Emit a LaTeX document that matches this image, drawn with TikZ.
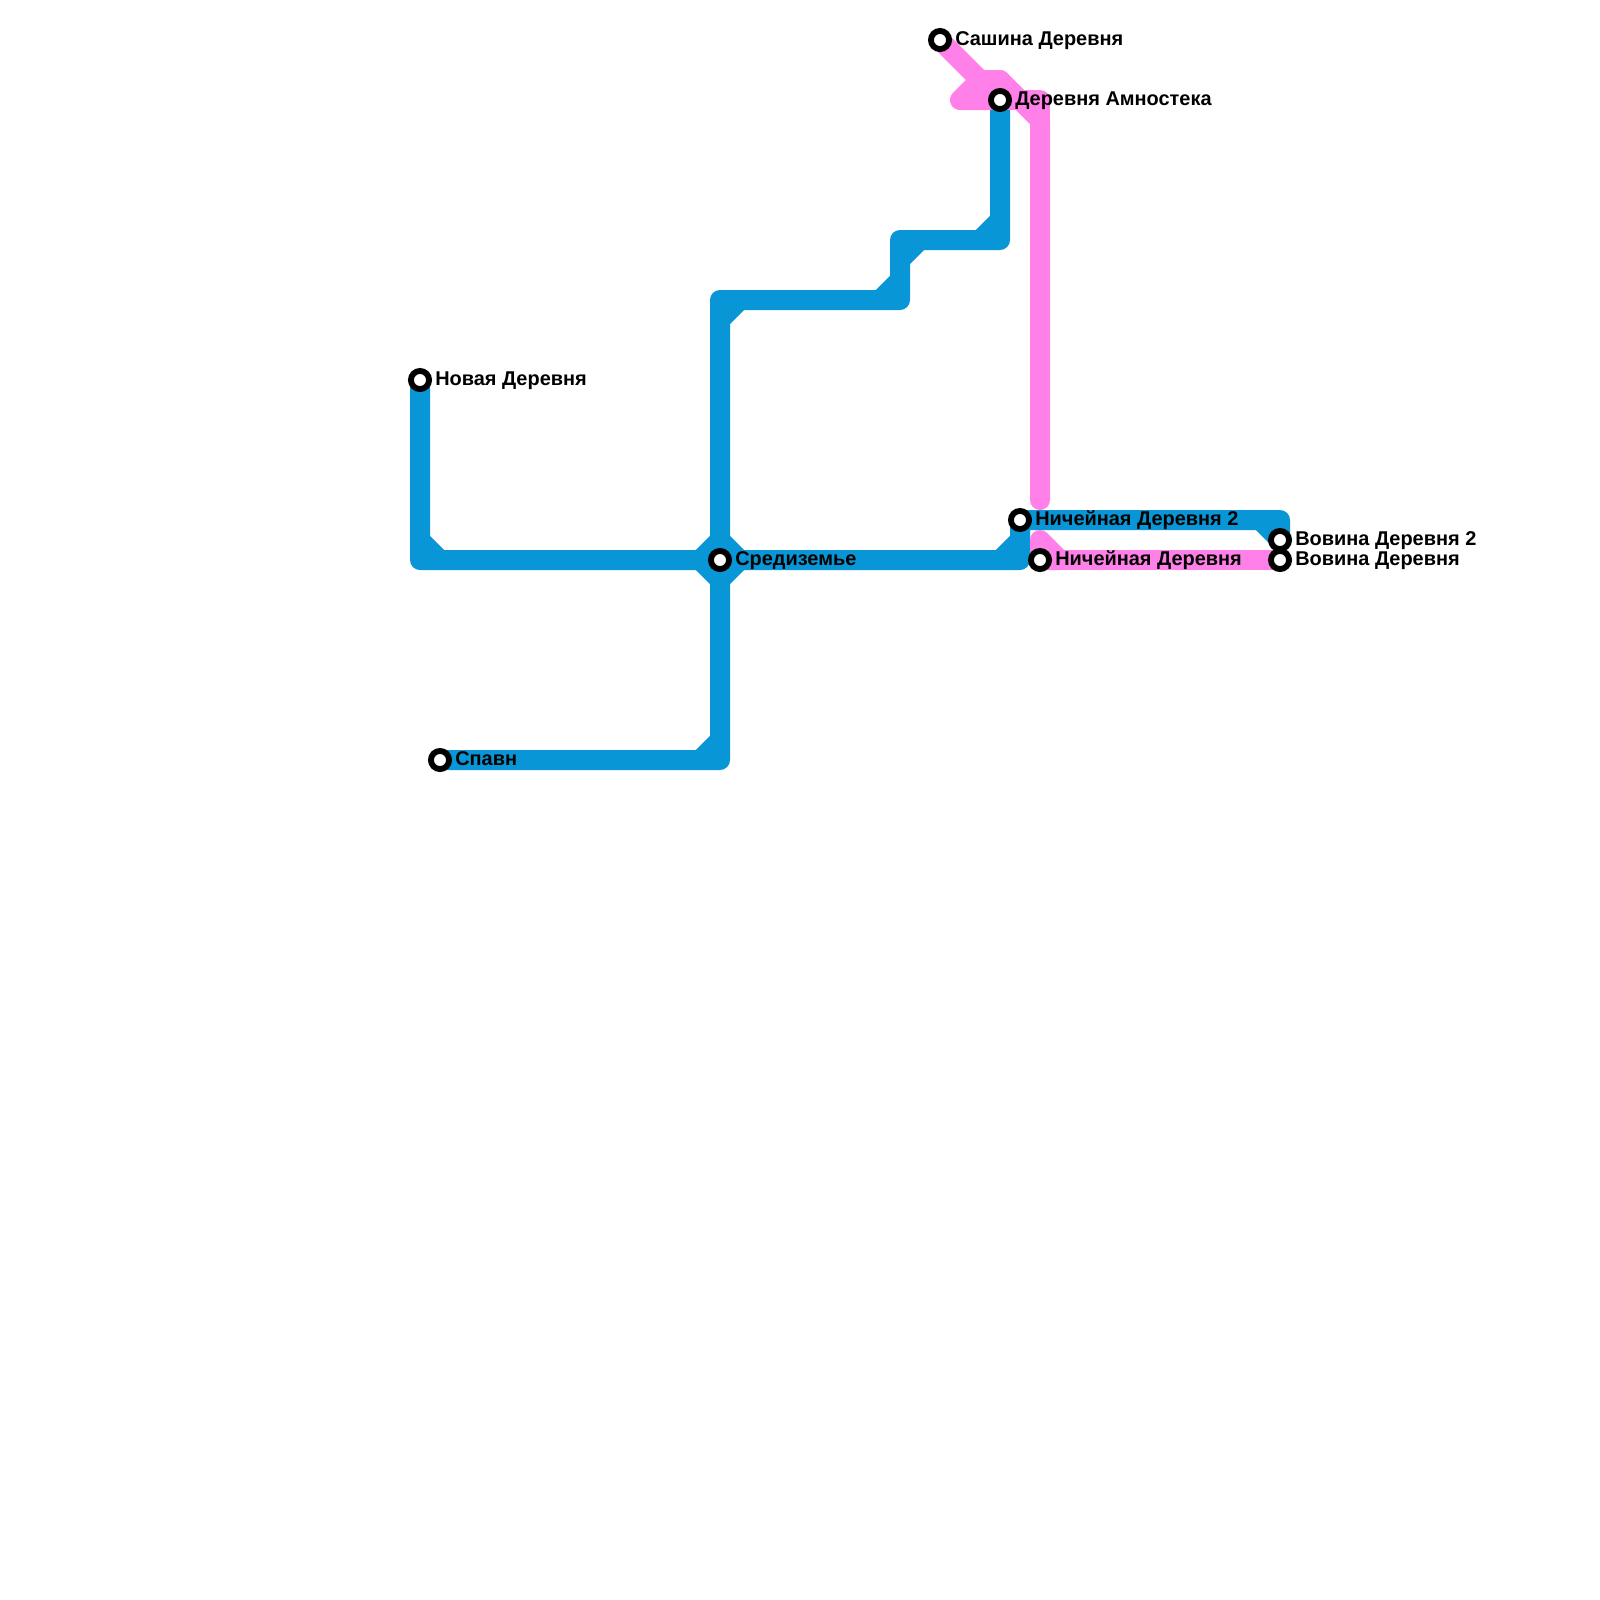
\documentclass[tikz,border=0pt]{standalone}
\usepackage{fontspec}
\setmainfont{Liberation Sans}
\definecolor{lineblue}{HTML}{0896D7}
\definecolor{linepink}{HTML}{FF80E8}
\begin{document}
\begin{tikzpicture}[x=0.75pt,y=-0.75pt,
  route/.style={line width=15pt,line join=round},
  blueroute/.style={route,draw=lineblue,line cap=butt},
  pinkroute/.style={route,draw=linepink,line cap=round},
  stop/.style={circle,draw=black,fill=white,line width=4.4pt,minimum size=13.6pt,inner sep=0pt},
  stoplabel/.style={anchor=base west,inner sep=0pt,font=\fontsize{14.95pt}{16pt}\selectfont\bfseries,text=black}]
\useasboundingbox[fill=white] (0,0) rectangle (1600,1600);
% station positions
\coordinate (novaya) at (420,380);
\coordinate (spawn) at (440,760);
\coordinate (sred) at (720,560);
\coordinate (nich2) at (1020,520);
\coordinate (nich) at (1040,560);
\coordinate (vov2) at (1280,540);
\coordinate (vov) at (1280,560);
\coordinate (sasha) at (940,40);
\coordinate (amno) at (1000,100);
% blue line
\draw[blueroute] (novaya) -- (420,540) -- (440,560) -- (420,560) -- (420,540) (420,560) -- (sred);
\draw[blueroute] (spawn) -- (720,760) -- (700,760) -- (720,740) -- (720,760) -- (sred);
\draw[blueroute] (sred) -- (720,320) -- (740,300) -- (720,300) -- (720,320) (720,300) -- (900,300) -- (880,300) -- (900,280) -- (900,300) -- (900,240) -- (900,260) -- (920,240) -- (900,240) -- (1000,240) -- (980,240) -- (1000,220) -- (1000,240) -- (amno);
\draw[blueroute] (sred) -- (1020,560) -- (1000,560) -- (1020,540) -- (1020,560) -- (nich2) -- (1280,520) -- (1280,540) -- (1260,520) -- (1280,520) -- (vov2);
\draw[blueroute] (700,560) -- (720,540) -- (740,560) -- (720,580) -- cycle;
\draw[blueroute] (720,580) -- (720,760);
% pink line
\draw[pinkroute] (sasha) -- (980,80) -- (1000,80) -- (1040,120) -- (1040,500);
\draw[pinkroute] (980,80) -- (960,100) -- (amno) -- (1000,80);
\draw[pinkroute] (amno) -- (1040,100) -- (1040,120);
\draw[pinkroute] (1040,540) -- (1060,560) -- (nich) -- (1040,540);
\draw[pinkroute] (nich) -- (vov);
% stations
\foreach \s in {novaya,spawn,sred,nich2,nich,vov2,vov,sasha,amno}
  \node[stop] (stop-\s) at (\s) {};
% labels
\node[stoplabel] (lab-novaya) at (435,385) {Новая Деревня};
\node[stoplabel] (lab-spawn) at (455,765) {Спавн};
\node[stoplabel] (lab-sred) at (735,565) {Средиземье};
\node[stoplabel] (lab-nich2) at (1035,525) {Ничейная Деревня 2};
\node[stoplabel] (lab-nich) at (1055,565) {Ничейная Деревня};
\node[stoplabel] (lab-vov2) at (1295,545) {Вовина Деревня 2};
\node[stoplabel] (lab-vov) at (1295,565) {Вовина Деревня};
\node[stoplabel] (lab-sasha) at (955,45) {Сашина Деревня};
\node[stoplabel] (lab-amno) at (1015,105) {Деревня Амностека};
\end{tikzpicture}
\end{document}
